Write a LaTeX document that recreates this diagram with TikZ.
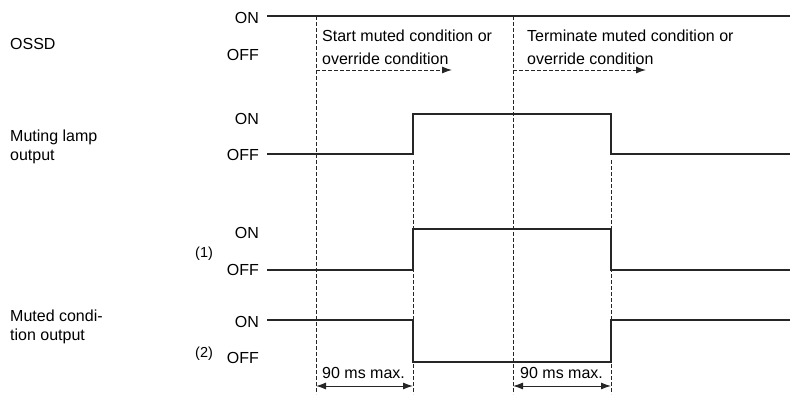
\documentclass[tikz,border=0pt]{standalone}
\usepackage{fontspec}
\setmainfont{Liberation Sans}
\usetikzlibrary{arrows.meta}
\begin{document}
\begin{tikzpicture}[x=1pt,y=-1pt,
  lbl/.style={font=\fontsize{16}{19}\selectfont, inner sep=0pt},
  lblr/.style={lbl, anchor=base east},
  lbll/.style={lbl, anchor=base west},
  num/.style={font=\fontsize{14.5}{17}\selectfont, inner sep=0pt, anchor=base west},
  wave/.style={line width=2.7pt, color=black!85, line join=miter},
  guide/.style={line width=1pt, dash pattern=on 3.5pt off 2.5pt, color=black!85},
  darrow/.style={guide, -{Latex[length=10pt,width=7pt]}},
  dimarrow/.style={line width=1pt, color=black!85, {Latex[length=10pt,width=7pt]}-{Latex[length=10pt,width=7pt]}}]
\useasboundingbox (0,0) rectangle (790,394);

% left labels
\node[lbll] (ossd) at (10,49) {OSSD};
\node[lbll] (ml1) at (10,141) {Muting lamp};
\node[lbll] (ml2) at (10,160) {output};
\node[lbll] (mc1) at (10,321) {Muted condi-};
\node[lbll] (mc2) at (10,340) {tion output};
\node[num] (n1) at (195,257) {(1)};
\node[num] (n2) at (195,357) {(2)};

% ON/OFF labels
\node[lblr] (on0) at (259,23) {ON};
\node[lblr] (off0) at (259,60) {OFF};
\node[lblr] (on1) at (259,124) {ON};
\node[lblr] (off1) at (259,160) {OFF};
\node[lblr] (on2) at (259,238) {ON};
\node[lblr] (off2) at (259,275) {OFF};
\node[lblr] (on3) at (259,327) {ON};
\node[lblr] (off3) at (259,363) {OFF};

% key time coordinates
\coordinate (a0) at (316,16);  \coordinate (a1) at (316,394);
\coordinate (b0) at (413,160); \coordinate (b1) at (413,394);
\coordinate (c0) at (513,16);  \coordinate (c1) at (513,394);
\coordinate (d0) at (611,160); \coordinate (d1) at (611,394);

% guide lines
\draw[guide] (a0) -- (a1);
\draw[guide] (b0) -- (b1);
\draw[guide] (c0) -- (c1);
\draw[guide] (d0) -- (d1);

% waveforms
\draw[wave] (267,16) -- (790,16);
\draw[wave] (267,154) -- (413,154) -- (413,114) -- (611,114) -- (611,154) -- (790,154);
\draw[wave] (267,270) -- (413,270) -- (413,229) -- (611,229) -- (611,270) -- (790,270);
\draw[wave] (267,320) -- (413,320) -- (413,362) -- (611,362) -- (611,320) -- (790,320);

% condition texts and dashed arrows
\node[lbll] (t1) at (322,41) {Start muted condition or};
\node[lbll] (t2) at (322,64) {override condition};
\node[lbll] (t3) at (527,41) {Terminate muted condition or};
\node[lbll] (t4) at (527,64) {override condition};
\coordinate (e1) at (316,70); \coordinate (f1) at (452,70);
\coordinate (e2) at (513,70); \coordinate (f2) at (646,70);
\draw[darrow] (e1) -- (f1);
\draw[darrow] (e2) -- (f2);

% 90 ms arrows
\coordinate (g1) at (316,386); \coordinate (h1) at (413,386);
\coordinate (g2) at (513,386); \coordinate (h2) at (611,386);
\draw[dimarrow] (g1) -- (h1);
\draw[dimarrow] (g2) -- (h2);
\node[lbll] (m1) at (322,378) {90 ms max.};
\node[lbll] (m2) at (520,378) {90 ms max.};
\end{tikzpicture}
\end{document}
